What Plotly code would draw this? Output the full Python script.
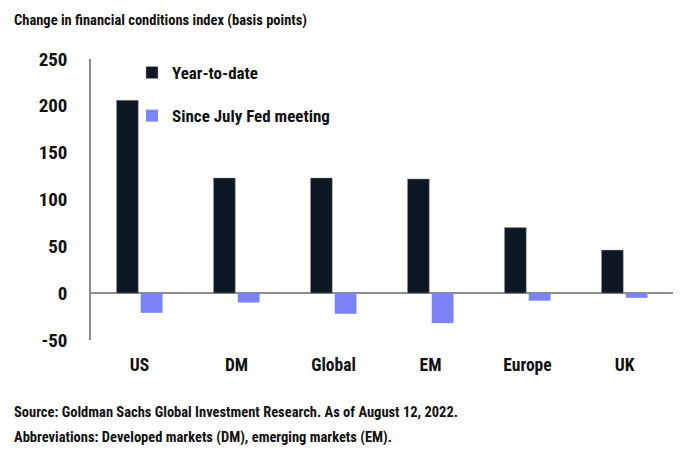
import plotly.graph_objects as go

categories = ["US", "DM", "Global", "EM", "Europe", "UK"]
ytd = [206, 123, 123, 122, 70, 46]
since_july = [-21, -10, -22, -32, -8, -5]
series_names = ["Year-to-date", "Since July Fed meeting"]
y_ticks = [-50, 0, 50, 100, 150, 200, 250]
y_tick_labels = [str(v) for v in y_ticks]

FONT = "Roboto Condensed, Arial Narrow, sans-serif"
TXT = "#111111"
DARK = "#0e1824"
BLUE = "#7b83f7"
W, H = 680, 476
ML, MR, MT, MB = 91, 7, 59, 136
PW, PH = W - ML - MR, H - MT - MB


def px(x):
    return (x - ML) / PW


def py(y):
    return 1 - (y - MT) / PH


def f(size):
    return dict(size=size, family=FONT, color=TXT, weight="bold")


fig = go.Figure()
fig.add_trace(go.Bar(x=categories, y=ytd, name=series_names[0], marker_color=DARK,
                     marker_line=dict(color="#9aa0a6", width=0.5), legendgroup="a"))
fig.add_trace(go.Bar(x=categories, y=since_july, name=series_names[1], marker_color=BLUE,
                     marker_line_width=0, legendgroup="b"))

fig.update_layout(
    width=W, height=H,
    paper_bgcolor="white", plot_bgcolor="white",
    margin=dict(l=ML, r=MR, t=MT, b=MB, autoexpand=False),
    barmode="group", bargap=0.5, bargroupgap=0.1,
    font=f(17),
    showlegend=True,
    legend=dict(x=px(132), y=py(55), xanchor="left", yanchor="top", bgcolor="rgba(0,0,0,0)",
                font=f(17), tracegroupgap=18, itemwidth=30),
    xaxis=dict(showline=False, showgrid=False, ticks="", ticklabelstandoff=12,
               tickfont=f(17.5), automargin=False),
    yaxis=dict(range=[-50, 250], tickvals=y_ticks, ticktext=y_tick_labels, showgrid=False,
               showline=True, linecolor="#8c8c8c", linewidth=1.5, zeroline=True,
               zerolinecolor="#8c8c8c", zerolinewidth=1.5, ticks="", ticklabelstandoff=18,
               tickfont=f(19), automargin=False),
    annotations=[
        dict(text="Change in financial conditions index (basis points)", x=px(12), y=py(20),
             xref="paper", yref="paper", showarrow=False, xanchor="left", yanchor="middle",
             font=f(14.5)),
        dict(text="Source: Goldman Sachs Global Investment Research. As of August 12, 2022.",
             x=px(12), y=py(412), xref="paper", yref="paper", showarrow=False,
             xanchor="left", yanchor="middle", font=f(14.5)),
        dict(text="Abbreviations: Developed markets (DM), emerging markets (EM).",
             x=px(12), y=py(437), xref="paper", yref="paper", showarrow=False,
             xanchor="left", yanchor="middle", font=f(14.5)),
    ],
)
fig.write_html("out.html", post_script="document.body.style.margin='0';",
               config={"displayModeBar": False})
